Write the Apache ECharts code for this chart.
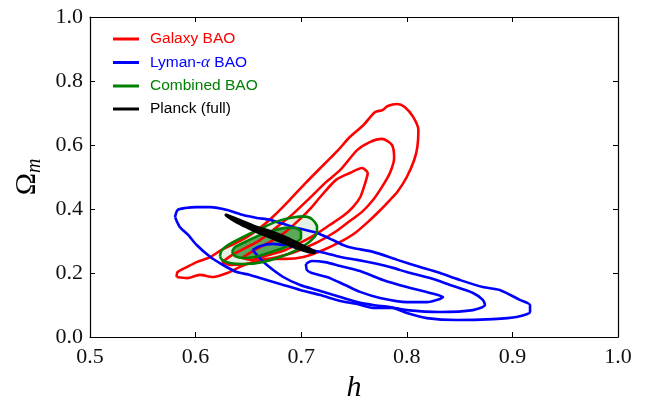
<!DOCTYPE html>
<html><head><meta charset="utf-8">
<script src="https://cdn.jsdelivr.net/npm/echarts@6/dist/echarts.min.js"></script>
<style>html,body{margin:0;padding:0;background:#fff}#c{width:652px;height:400px}</style>
</head><body><div id="c"></div>
<script>
// ---- data (h, Omega_m) ----
const xTickLabels = ['0.5','0.6','0.7','0.8','0.9','1.0'];
const yTickLabels = ['0.0','0.2','0.4','0.6','0.8','1.0'];
const legendNames = ['Galaxy BAO','Lyman-α BAO','Combined BAO','Planck (full)'];

const galaxyOuter = [[0.582,0.1875],[0.583,0.203],[0.592,0.219],[0.601,0.234],[0.614,0.25],[0.623,0.269],[0.634,0.2875],[0.647,0.309],[0.661,0.341],[0.673,0.375],[0.689,0.428],[0.705,0.484],[0.721,0.5375],[0.735,0.584],[0.746,0.625],[0.759,0.6625],[0.770,0.703],[0.777,0.709],[0.782,0.722],[0.791,0.728],[0.798,0.719],[0.806,0.688],[0.811,0.647],[0.810,0.594],[0.807,0.553],[0.800,0.5],[0.791,0.453],[0.784,0.428],[0.775,0.397],[0.763,0.359],[0.751,0.325],[0.737,0.297],[0.721,0.272],[0.702,0.25],[0.685,0.244],[0.669,0.244],[0.652,0.231],[0.642,0.219],[0.630,0.2],[0.6165,0.1875],[0.604,0.194],[0.592,0.184],[0.582,0.1875]];
const galaxyMid = [[0.625,0.234],[0.6345,0.256],[0.647,0.278],[0.661,0.303],[0.676,0.341],[0.692,0.384],[0.708,0.434],[0.7235,0.484],[0.737,0.522],[0.753,0.584],[0.765,0.609],[0.7765,0.619],[0.786,0.6],[0.788,0.559],[0.784,0.5125],[0.7765,0.469],[0.768,0.428],[0.7576,0.391],[0.746,0.3625],[0.732,0.328],[0.716,0.297],[0.699,0.272],[0.685,0.256],[0.666,0.241],[0.647,0.228],[0.633,0.225],[0.625,0.234]];
const galaxyInner = [[0.644,0.247],[0.656,0.272],[0.6705,0.297],[0.685,0.328],[0.699,0.369],[0.710,0.406],[0.718,0.4375],[0.733,0.491],[0.746,0.5125],[0.7576,0.528],[0.763,0.5125],[0.760,0.475],[0.756,0.4375],[0.749,0.406],[0.7396,0.378],[0.727,0.35],[0.713,0.319],[0.699,0.294],[0.685,0.272],[0.669,0.256],[0.653,0.241],[0.644,0.247]];

const lymanOuter = [[0.5805,0.375],[0.583,0.397],[0.590,0.403],[0.601,0.406],[0.614,0.406],[0.630,0.397],[0.645,0.381],[0.658,0.372],[0.6705,0.366],[0.692,0.344],[0.715,0.325],[0.730,0.303],[0.7396,0.2875],[0.749,0.278],[0.768,0.266],[0.791,0.241],[0.8125,0.219],[0.8286,0.203],[0.8504,0.178],[0.872,0.156],[0.888,0.147],[0.907,0.116],[0.9167,0.1],[0.9167,0.078],[0.904,0.0625],[0.8816,0.056],[0.8475,0.053],[0.819,0.059],[0.800,0.075],[0.786,0.091],[0.768,0.091],[0.753,0.103],[0.737,0.1125],[0.718,0.131],[0.699,0.147],[0.680,0.166],[0.661,0.184],[0.6515,0.194],[0.639,0.203],[0.626,0.225],[0.614,0.25],[0.601,0.2875],[0.593,0.319],[0.585,0.344],[0.5805,0.375]];
const lymanMid = [[0.654,0.272],[0.661,0.284],[0.673,0.291],[0.689,0.284],[0.708,0.272],[0.7225,0.2625],[0.737,0.25],[0.753,0.241],[0.768,0.231],[0.787,0.216],[0.800,0.203],[0.822,0.184],[0.841,0.1625],[0.8627,0.1375],[0.872,0.116],[0.874,0.1],[0.8627,0.084],[0.8314,0.078],[0.800,0.084],[0.784,0.094],[0.768,0.1],[0.753,0.109],[0.737,0.125],[0.715,0.147],[0.699,0.1625],[0.683,0.1875],[0.6676,0.225],[0.659,0.253],[0.654,0.272]];
const lymanInner = [[0.7045,0.228],[0.710,0.2375],[0.7225,0.234],[0.737,0.222],[0.7557,0.206],[0.7775,0.178],[0.800,0.156],[0.822,0.1375],[0.8343,0.125],[0.8314,0.119],[0.819,0.109],[0.800,0.109],[0.7746,0.122],[0.7557,0.141],[0.7415,0.1625],[0.7244,0.1875],[0.710,0.2],[0.7055,0.209],[0.7045,0.228]];

const combinedOuter = [[0.623,0.253],[0.625,0.272],[0.6326,0.291],[0.647,0.316],[0.661,0.3375],[0.675,0.359],[0.689,0.372],[0.7017,0.377],[0.710,0.369],[0.715,0.344],[0.714,0.319],[0.7064,0.294],[0.694,0.269],[0.680,0.25],[0.663,0.234],[0.647,0.228],[0.6326,0.231],[0.625,0.241],[0.623,0.253]];
const combinedInner = [[0.6345,0.266],[0.6373,0.281],[0.647,0.297],[0.659,0.316],[0.6723,0.331],[0.685,0.341],[0.694,0.341],[0.6998,0.328],[0.6998,0.309],[0.694,0.294],[0.683,0.278],[0.6686,0.2625],[0.656,0.25],[0.645,0.247],[0.6373,0.253],[0.6345,0.266]];

const planck = [[0.629,0.384],[0.642,0.367],[0.656,0.348],[0.6705,0.333],[0.685,0.314],[0.699,0.292],[0.708,0.278],[0.713,0.269],[0.713,0.2625],[0.7064,0.264],[0.694,0.278],[0.680,0.297],[0.6657,0.316],[0.6515,0.336],[0.639,0.356],[0.6307,0.373],[0.628,0.381]];

// ---- chart ----
const RED='#ff0000', BLUE='#0000ff', GREEN='#008000', BLACK='#000000';
const chart = echarts.init(document.getElementById('c'));

function contour(name, pts, color, z){
  return {type:'line', name, data:pts, showSymbol:false, symbol:'none', smooth:0.25,
    lineStyle:{color, width:2.6}, itemStyle:{color}, z, silent:true, animation:false};
}
function poly(name, pts, fill, stroke, lw, color, z){
  return {type:'custom', name, coordinateSystem:'cartesian2d', data:[pts[0]], z, silent:true, animation:false,
    itemStyle:{color},
    renderItem:(params, api)=>({type:'polygon', shape:{points:pts.map(p=>api.coord(p)), smooth:0.3},
      style:{fill, stroke, lineWidth:lw}})};
}

const axisCommon = {type:'value', splitLine:{show:false},
  axisLine:{show:true, onZero:false, lineStyle:{color:'#000', width:1.2}},
  axisTick:{show:true, inside:true, length:5, lineStyle:{color:'#000', width:1}}};

const option = {
  backgroundColor:'#fff',
  animation:false,
  grid:{left:90, right:34, top:17, bottom:63, outerBoundsMode:'none', containLabel:false},
  xAxis:[
    Object.assign({}, axisCommon, {min:0.5, max:1.0, interval:0.1, position:'bottom',
      axisLabel:{margin:9, fontFamily:'Liberation Serif', fontSize:22, color:'#111',
        formatter:(v)=>xTickLabels[Math.round((v-0.5)/0.1)]},
      name:'h', nameLocation:'middle', nameGap:33,
      nameTextStyle:{fontFamily:'Liberation Serif', fontStyle:'italic', fontSize:30, color:'#000'}}),
    Object.assign({}, axisCommon, {min:0.5, max:1.0, interval:0.1, position:'top', axisLabel:{show:false}})
  ],
  yAxis:[
    Object.assign({}, axisCommon, {min:0, max:1, interval:0.2, position:'left',
      axisLabel:{margin:7, fontFamily:'Liberation Serif', fontSize:22, color:'#111',
        formatter:(v)=>yTickLabels[Math.round(v/0.2)]},
      name:'{o|Ω}{m|m}', nameLocation:'middle', nameGap:43, nameRotate:90,
      nameTextStyle:{rich:{
        o:{fontFamily:'Liberation Serif', fontSize:30, color:'#000', lineHeight:34},
        m:{fontFamily:'Liberation Serif', fontStyle:'italic', fontSize:20, color:'#000', verticalAlign:'bottom', lineHeight:26}
      }}}),
    Object.assign({}, axisCommon, {min:0, max:1, interval:0.2, position:'right', axisLabel:{show:false}})
  ],
  legend:{
    left:108, top:26, orient:'vertical', selectedMode:false,
    itemWidth:26, itemHeight:3, itemGap:7, icon:'rect',
    textStyle:{fontFamily:'Liberation Sans', fontSize:15.5, lineHeight:16, padding:[0,0,0,6]},
    data:[
      {name:legendNames[0], itemStyle:{color:RED}, textStyle:{color:RED}},
      {name:legendNames[1], itemStyle:{color:BLUE}, textStyle:{color:BLUE,
        rich:{t:{color:BLUE, fontFamily:'Liberation Sans', fontSize:15.5}, g:{color:BLUE, fontFamily:'Liberation Serif', fontStyle:'italic', fontSize:17}}}},
      {name:legendNames[2], itemStyle:{color:GREEN}, textStyle:{color:GREEN}},
      {name:legendNames[3], itemStyle:{color:BLACK}, textStyle:{color:BLACK}}
    ],
    formatter:(n)=> n===legendNames[1] ? '{t|Lyman-}{g|α}{t| BAO}' : n
  },
  series:[
    poly(legendNames[2], combinedOuter, '#e4f2e4', 'none', 0, GREEN, 1),
    poly(legendNames[2], combinedInner, '#5aa85a', 'none', 0, GREEN, 2),
    contour(legendNames[0], galaxyOuter, RED, 3),
    contour(legendNames[0], galaxyMid, RED, 3),
    contour(legendNames[0], galaxyInner, RED, 3),
    contour(legendNames[1], lymanOuter, BLUE, 4),
    contour(legendNames[1], lymanMid, BLUE, 4),
    contour(legendNames[1], lymanInner, BLUE, 4),
    contour(legendNames[2], combinedOuter, GREEN, 5),
    contour(legendNames[2], combinedInner, GREEN, 5),
    poly(legendNames[3], planck, BLACK, BLACK, 1.5, BLACK, 6)
  ]
};
chart.setOption(option);
</script></body></html>
